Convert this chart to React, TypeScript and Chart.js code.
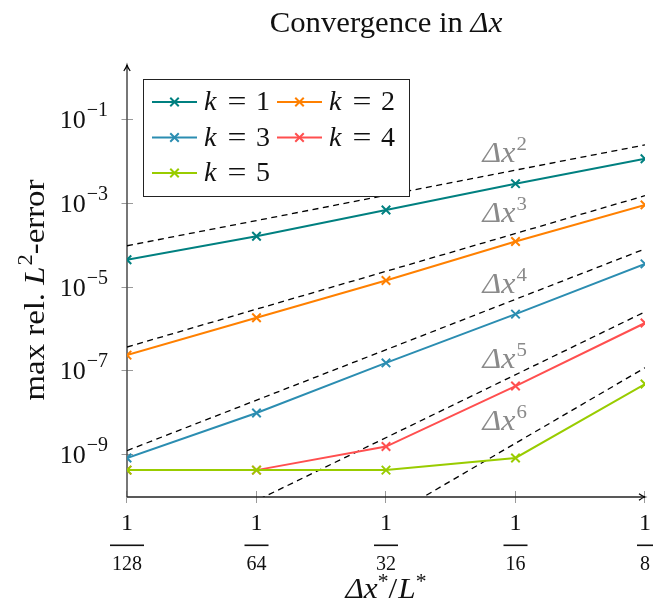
import React, { useEffect, useRef } from "react";
import { Chart, registerables } from "chart.js";

Chart.register(...registerables);

// ---------- data ----------
const xValues = [1 / 128, 1 / 64, 1 / 32, 1 / 16, 1 / 8];
const xTickDenominators = ["128", "64", "32", "16", "8"];
const yTickExponents = [-1, -3, -5, -7, -9];

const seriesK = ["1", "2", "3", "4", "5"];
const errK1 = [4.4e-5, 1.6e-4, 6.8e-4, 2.9e-3, 1.14e-2];
const errK2 = [2.3e-7, 1.8e-6, 1.4e-5, 1.2e-4, 9.0e-4];
const errK3 = [8.0e-10, 9.5e-9, 1.5e-7, 2.2e-6, 3.5e-5];
const errK4 = [4.1e-10, 4.1e-10, 1.5e-9, 4.2e-8, 1.35e-6];
const errK5 = [4.1e-10, 4.1e-10, 4.1e-10, 8.0e-10, 4.7e-8];
const seriesColors = ["#008080", "#ff8000", "#2b8db1", "#ff4f4f", "#99cc00"];

// reference slopes Δx^n (values at x = 1/128 and x = 1/8)
const refOrders = ["2", "3", "4", "5", "6"];
const refXs = [1 / 128, 1 / 8];
const refDx2 = [9.5e-5, 2.45e-2];
const refDx3 = [3.6e-7, 1.5e-3];
const refDx4 = [1.2e-9, 8.0e-5];
const refDx5 = [2.4e-12, 2.5e-6];
const refDx6 = [6.9e-15, 1.15e-7];
// annotation anchors (data coordinates)
const refLabelX = 0.0524;
const refLabelY = [9.6e-3, 3.5e-4, 7.1e-6, 1.14e-7, 3.8e-9];

const Y_MIN = Math.pow(10, -10.03);
const Y_MAX = Math.pow(10, 0.3);
const X_MIN = 1 / 128;
const X_MAX = 1 / 8;

// ---------- drawing helpers ----------
const SERIF = '"Liberation Serif", "DejaVu Serif", serif';
type Part = { t: string; italic?: boolean; size: number; dy?: number; gap?: number };

function fontOf(p: Part) {
  return `${p.italic ? "italic " : ""}${p.size}px ${SERIF}`;
}
function partsWidth(ctx: CanvasRenderingContext2D, parts: Part[]) {
  let w = 0;
  for (const p of parts) {
    ctx.font = fontOf(p);
    w += ctx.measureText(p.t).width + (p.gap || 0);
  }
  return w;
}
function drawParts(
  ctx: CanvasRenderingContext2D,
  parts: Part[],
  x: number,
  y: number,
  align: "left" | "center" | "right",
  color: string,
  sx: number = 1
) {
  const w = partsWidth(ctx, parts) * sx;
  const x0 = align === "left" ? x : align === "center" ? x - w / 2 : x - w;
  ctx.save();
  ctx.translate(x0, y);
  ctx.scale(sx, 1);
  ctx.fillStyle = color;
  ctx.textAlign = "left";
  ctx.textBaseline = "alphabetic";
  let cx = 0;
  for (const p of parts) {
    ctx.font = fontOf(p);
    ctx.fillText(p.t, cx, p.dy || 0);
    cx += ctx.measureText(p.t).width + (p.gap || 0);
  }
  ctx.restore();
}
function drawCross(ctx: CanvasRenderingContext2D, x: number, y: number, r: number, color: string) {
  ctx.save();
  ctx.strokeStyle = color;
  ctx.lineWidth = 2;
  const d = r * 0.7071;
  ctx.beginPath();
  ctx.moveTo(x - d, y - d);
  ctx.lineTo(x + d, y + d);
  ctx.moveTo(x - d, y + d);
  ctx.lineTo(x + d, y - d);
  ctx.stroke();
  ctx.restore();
}

const decorPlugin = {
  id: "decor",
  beforeDatasetsDraw(chart: any) {
    const ctx: CanvasRenderingContext2D = chart.ctx;
    const xs = chart.scales.x;
    const ys = chart.scales.y;
    const { left, right, top, bottom } = chart.chartArea;
    ctx.save();

    // ticks
    ctx.strokeStyle = "#9a9a9a";
    ctx.lineWidth = 1;
    for (const e of yTickExponents) {
      const y = Math.round(ys.getPixelForValue(Math.pow(10, e))) + 0.5;
      ctx.beginPath();
      ctx.moveTo(left - 5.5, y);
      ctx.lineTo(left + 6, y);
      ctx.stroke();
    }
    for (const v of xValues) {
      const x = Math.round(xs.getPixelForValue(v)) - 0.5;
      ctx.beginPath();
      ctx.moveTo(x, bottom - 6);
      ctx.lineTo(x, bottom + 6);
      ctx.stroke();
    }

    // axes
    ctx.strokeStyle = "#555";
    ctx.lineWidth = 1.6;
    ctx.beginPath();
    ctx.moveTo(left, bottom);
    ctx.lineTo(left, top);
    ctx.stroke();
    ctx.strokeStyle = "#222";
    ctx.lineWidth = 1.3;
    ctx.beginPath();
    ctx.moveTo(left, bottom);
    ctx.lineTo(right, bottom);
    ctx.stroke();
    // arrow heads
    ctx.strokeStyle = "#000";
    ctx.lineWidth = 1.2;
    ctx.beginPath();
    ctx.moveTo(left - 3.2, top + 6);
    ctx.quadraticCurveTo(left - 0.6, top + 2.5, left, top);
    ctx.quadraticCurveTo(left + 0.6, top + 2.5, left + 3.2, top + 6);
    ctx.stroke();
    ctx.beginPath();
    ctx.moveTo(right - 6, bottom - 3.2);
    ctx.quadraticCurveTo(right - 2.5, bottom - 0.6, right, bottom);
    ctx.quadraticCurveTo(right - 2.5, bottom + 0.6, right - 6, bottom + 3.2);
    ctx.stroke();

    // y tick labels 10^e
    for (const e of yTickExponents) {
      const y = ys.getPixelForValue(Math.pow(10, e));
      drawParts(
        ctx,
        [
          { t: "10", size: 26, gap: 1 },
          { t: "\u2212" + String(-e), size: 20, dy: -12 },
        ],
        left - 19,
        y + 9,
        "right",
        "#111"
      );
    }

    // x tick labels as fractions 1/n
    xValues.forEach((v, i) => {
      const x = xs.getPixelForValue(v);
      ctx.font = `24px ${SERIF}`;
      const wN = ctx.measureText("1").width;
      ctx.font = `20px ${SERIF}`;
      const wD = ctx.measureText(xTickDenominators[i]).width;
      drawParts(ctx, [{ t: "1", size: 24 }], x, bottom + 33, "center", "#111");
      drawParts(ctx, [{ t: xTickDenominators[i], size: 20 }], x, bottom + 73, "center", "#111");
      const bw = Math.max(wN, wD) + 4;
      ctx.fillStyle = "#111";
      ctx.fillRect(x - bw / 2, bottom + 47.5, bw, 1.6);
    });

    // title
    drawParts(
      ctx,
      [
        { t: "Convergence in ", size: 29 },
        { t: "\u0394x", size: 29, italic: true },
      ],
      (left + right) / 2,
      32,
      "center",
      "#111",
      1.06
    );

    // x axis title
    drawParts(
      ctx,
      [
        { t: "\u0394x", size: 29, italic: true },
        { t: "*", size: 20, dy: -10 },
        { t: "/", size: 29, gap: 1 },
        { t: "L", size: 29, italic: true },
        { t: "*", size: 20, dy: -10 },
      ],
      (left + right) / 2,
      bottom + 101,
      "center",
      "#111",
      1.08
    );

    // y axis title (rotated)
    ctx.save();
    ctx.translate(44, (top + bottom) / 2 + 9);
    ctx.rotate(-Math.PI / 2);
    drawParts(
      ctx,
      [
        { t: "max rel. ", size: 29 },
        { t: "L", size: 29, italic: true, gap: 1 },
        { t: "2", size: 20, dy: -12 },
        { t: "-error", size: 29 },
      ],
      0,
      0,
      "center",
      "#111",
      1.13
    );
    ctx.restore();

    ctx.restore();
  },
  afterDatasetsDraw(chart: any) {
    const ctx: CanvasRenderingContext2D = chart.ctx;
    const xs = chart.scales.x;
    const ys = chart.scales.y;
    ctx.save();

    // Δx^n annotations
    const lx = xs.getPixelForValue(refLabelX);
    refOrders.forEach((n, i) => {
      const y = ys.getPixelForValue(refLabelY[i]);
      drawParts(
        ctx,
        [
          { t: "\u0394x", size: 29, italic: true, gap: 1 },
          { t: n, size: 19, dy: -12 },
        ],
        lx,
        y,
        "left",
        "#8a8a8a",
        1.1
      );
    });

    // legend
    const bx = 143.5,
      by = 79.5,
      bw = 266,
      bh = 117;
    ctx.fillStyle = "#fff";
    ctx.fillRect(bx, by, bw, bh);
    ctx.strokeStyle = "#222";
    ctx.lineWidth = 1;
    ctx.strokeRect(bx, by, bw, bh);
    const ds = chart.data.datasets.filter((d: any) => d.isSeries);
    ds.forEach((d: any, i: number) => {
      const col = i % 2;
      const row = Math.floor(i / 2);
      const sx0 = 152 + col * 125;
      const sx1 = sx0 + 45;
      const ry = 102 + row * 35.5;
      ctx.strokeStyle = d.borderColor;
      ctx.lineWidth = 2;
      ctx.beginPath();
      ctx.moveTo(sx0, ry);
      ctx.lineTo(sx1, ry);
      ctx.stroke();
      drawCross(ctx, (sx0 + sx1) / 2, ry, 6, d.borderColor);
      const tx = sx0 + 52;
      drawParts(ctx, [{ t: "k", size: 28, italic: true }], tx, ry + 8, "left", "#111");
      drawParts(ctx, [{ t: "=", size: 28 }], tx + 33, ry + 8, "center", "#111", 1.2);
      drawParts(ctx, [{ t: d.kLabel, size: 28 }], tx + 59, ry + 8, "center", "#111");
    });

    ctx.restore();
  },
};

export default function App() {
  const canvasRef = useRef<HTMLCanvasElement | null>(null);

  useEffect(() => {
    if (!canvasRef.current) return;
    const seriesData = [errK1, errK2, errK3, errK4, errK5];
    const refData = [refDx2, refDx3, refDx4, refDx5, refDx6];

    const seriesSets = seriesData.map((arr, i) => ({
      label: "k = " + seriesK[i],
      kLabel: seriesK[i],
      isSeries: true,
      data: arr.map((v, j) => ({ x: xValues[j], y: v })),
      borderColor: seriesColors[i],
      backgroundColor: seriesColors[i],
      borderWidth: 2,
      pointStyle: "crossRot",
      pointRadius: 6,
      pointBorderWidth: 2,
      pointBorderColor: seriesColors[i],
      tension: 0,
      order: 5 - i,
    }));
    const refSets = refData.map((arr, i) => ({
      label: "dx^" + refOrders[i],
      isSeries: false,
      data: arr.map((v, j) => ({ x: refXs[j], y: v })),
      borderColor: "#000",
      borderWidth: 1.3,
      borderDash: [6, 4.5],
      pointRadius: 0,
      tension: 0,
      order: 10,
    }));

    const chart = new Chart(canvasRef.current, {
      type: "line",
      data: { datasets: [...seriesSets, ...refSets] as any },
      options: {
        responsive: false,
        animation: false,
        devicePixelRatio: 1,
        layout: { padding: { left: 127, top: 65, right: 9, bottom: 111 } },
        plugins: { legend: { display: false }, tooltip: { enabled: false } },
        events: [],
        scales: {
          x: { type: "logarithmic", min: X_MIN, max: X_MAX, display: false, bounds: "data" },
          y: { type: "logarithmic", min: Y_MIN, max: Y_MAX, display: false, bounds: "data" },
        },
      } as any,
      plugins: [decorPlugin as any],
    });
    return () => chart.destroy();
  }, []);

  return (
    <div style={{ position: "absolute", left: 0, top: 0, width: 654, height: 608, background: "#fff" }}>
      <canvas ref={canvasRef} width={654} height={608} style={{ display: "block", width: 654, height: 608 }} />
    </div>
  );
}
